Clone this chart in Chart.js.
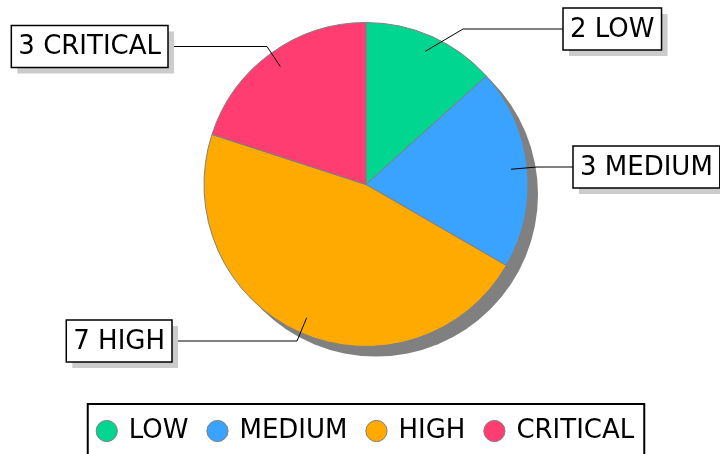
<!DOCTYPE html>
<html>
<head>
<meta charset="utf-8">
<script src="https://cdn.jsdelivr.net/npm/chart.js@4.4.0/dist/chart.umd.min.js"></script>
<style>
    html, body { margin: 0; padding: 0; background: #fff; }
    #wrap { width: 720px; height: 454px; }
</style>
</head>
<body>
<div id="wrap"><canvas id="chart" width="720" height="454"></canvas></div>
<script>
// Data
const levels = ['LOW', 'MEDIUM', 'HIGH', 'CRITICAL'];
const counts = [2, 3, 7, 3];
const levelColors = ['#00d68f', '#3aa3ff', '#ffaa00', '#ff3d71'];

// Callout placement: elbow offset from pie centre, and where the box starts (px)
const calloutLayout = [
    { elbow: [97, -155.5], edge: 197 },
    { elbow: [171, -17.5], edge: 207 },
    { elbow: [-69, 156.5], edge: -194 },
    { elbow: [-99, -138], edge: -198 }
];

const labelFont = '26px "DejaVu Sans"';

// Gray drop shadow under the whole pie
const pieShadow = {
    id: 'pieShadow',
    beforeDatasetsDraw(chart) {
        const arc = chart.getDatasetMeta(0).data[0];
        if (!arc) return;
        const ctx = chart.ctx;
        ctx.save();
        ctx.fillStyle = '#808080';
        ctx.beginPath();
        ctx.arc(arc.x + 10, arc.y + 10, arc.outerRadius, 0, Math.PI * 2);
        ctx.fill();
        ctx.restore();
    }
};

// Boxed labels with leader lines
const callouts = {
    id: 'callouts',
    afterDatasetsDraw(chart) {
        const ctx = chart.ctx;
        const arcs = chart.getDatasetMeta(0).data;
        ctx.save();
        ctx.font = labelFont;
        ctx.textBaseline = 'middle';
        arcs.forEach((arc, i) => {
            const lay = calloutLayout[i];
            const mid = (arc.startAngle + arc.endAngle) / 2;
            const r = arc.outerRadius * 0.9;
            const ax = arc.x + Math.cos(mid) * r;
            const ay = arc.y + Math.sin(mid) * r;
            const ex = arc.x + lay.elbow[0];
            const ey = arc.y + lay.elbow[1];
            const bx = arc.x + lay.edge;

            const text = counts[i] + ' ' + levels[i];
            const w = ctx.measureText(text).width + 14;
            const h = 42;
            const left = lay.edge > 0 ? bx : bx - w;
            const top = ey - h / 2;

            // leader line
            ctx.strokeStyle = '#000';
            ctx.lineWidth = 1;
            ctx.beginPath();
            ctx.moveTo(ax, ay);
            ctx.lineTo(ex, ey);
            ctx.lineTo(bx, ey);
            ctx.stroke();

            // box shadow, box, text
            ctx.fillStyle = '#cccccc';
            ctx.fillRect(left + 6, top + 6, w, h);
            ctx.fillStyle = '#fff';
            ctx.fillRect(left, top, w, h);
            ctx.lineWidth = 1.5;
            ctx.strokeRect(left, top, w, h);
            ctx.fillStyle = '#000';
            ctx.textAlign = 'center';
            ctx.fillText(text, left + w / 2, ey + 1);
        });
        ctx.restore();
    }
};

// Frame round the legend row
const legendFrame = {
    id: 'legendFrame',
    afterDraw(chart) {
        const boxes = chart.legend && chart.legend.legendHitBoxes;
        if (!boxes || !boxes.length) return;
        const first = boxes[0];
        const last = boxes[boxes.length - 1];
        const ctx = chart.ctx;
        ctx.save();
        ctx.strokeStyle = '#000';
        ctx.lineWidth = 2;
        ctx.strokeRect(first.left - 10, first.top - 14, last.left + last.width - first.left + 20, 80);
        ctx.restore();
    }
};

Chart.defaults.font.family = '"DejaVu Sans"';

new Chart(document.getElementById('chart'), {
    type: 'pie',
    data: {
        labels: levels,
        datasets: [{
            data: counts,
            backgroundColor: levelColors,
            borderColor: '#808080',
            borderWidth: 1,
            radius: 162,
            hoverOffset: 0
        }]
    },
    options: {
        responsive: false,
        animation: false,
        layout: { padding: { left: 12, top: 0, right: 0, bottom: 0 } },
        events: [],
        plugins: {
            tooltip: { enabled: false },
            legend: {
                position: 'bottom',
                title: {
                    display: true,
                    text: ' ',
                    font: { size: 1, lineHeight: 1 },
                    padding: { top: 28, bottom: 0 }
                },
                labels: {
                    usePointStyle: true,
                    pointStyle: 'circle',
                    boxWidth: 18,
                    boxHeight: 15,
                    padding: 20,
                    color: '#000',
                    font: { size: 26 }
                }
            }
        }
    },
    plugins: [pieShadow, callouts, legendFrame]
});
</script>
</body>
</html>
